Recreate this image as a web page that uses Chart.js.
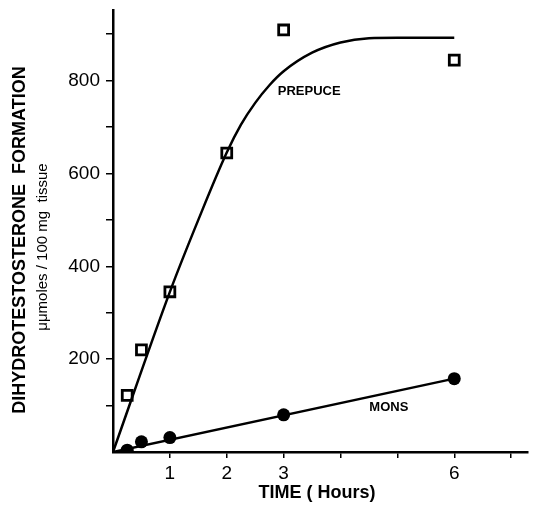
<!DOCTYPE html>
<html lang="en">
<head>
  <meta charset="UTF-8">
  <title>Dihydrotestosterone Formation</title>
  <script src="https://cdn.jsdelivr.net/npm/chart.js"></script>
  <style>
    html, body { margin: 0; padding: 0; background: #fff; }
    #wrap { width: 538px; height: 507px; }
  </style>
</head>
<body>
  <div id="wrap"><canvas id="dhtChart"></canvas></div>

  <script>
    // measured points (hours, µµmoles / 100 mg tissue)
    const prepuceHours = [0.25, 0.5, 1, 2, 3, 6];
    const prepuceValues = [122, 220, 345, 644, 909, 844];
    const monsHours = [0.25, 0.5, 1, 3, 6];
    const monsValues = [4, 22, 31, 80, 158];

    // fitted curves as drawn in the figure
    const prepuceFitHours = [0, 1, 1.5, 2, 2.25, 2.5, 2.75, 3, 3.5, 4, 4.5, 5, 6];
    const prepuceFitValues = [0, 345, 500, 645, 705, 752, 790, 820, 860, 882, 891, 892, 892];
    const monsFitHours = [0, 6];
    const monsFitValues = [0, 158];

    const xTicks = [1, 2, 3, 4, 5, 6, 7];
    const xLabels = [1, 2, 3, 6];
    const yTicks = [100, 200, 300, 400, 500, 600, 700, 800, 900];
    const yLabels = [200, 400, 600, 800];

    const toPoints = (xs, ys) => xs.map((x, i) => ({ x: x, y: ys[i] }));

    // draws the axis titles and the series labels
    const textPlugin = {
      id: 'figureText',
      afterDraw(chart) {
        const ctx = chart.ctx;
        const xs = chart.scales.x, ys = chart.scales.y;
        ctx.save();
        ctx.fillStyle = '#000';
        ctx.textAlign = 'center';
        ctx.textBaseline = 'middle';

        ctx.font = 'bold 13px "Liberation Sans", Arial, sans-serif';
        ctx.fillText('PREPUCE', xs.getPixelForValue(3.45), ys.getPixelForValue(777));
        ctx.fillText('MONS', xs.getPixelForValue(4.85), ys.getPixelForValue(96));

        ctx.font = 'bold 18px "Liberation Sans", Arial, sans-serif';
        ctx.fillText('TIME ( Hours)', 317, 493);

        ctx.translate(20, 240);
        ctx.rotate(-Math.PI / 2);
        ctx.fillText('DIHYDROTESTOSTERONE  FORMATION', 0, 0);
        ctx.font = '15px "Liberation Sans", Arial, sans-serif';
        ctx.fillText('\u03bc\u03bcmoles / 100 mg  tissue', -7, 23);
        ctx.restore();
      }
    };

    const ctx = document.getElementById('dhtChart').getContext('2d');
    new Chart(ctx, {
      type: 'scatter',
      data: {
        datasets: [
          {
            label: 'Prepuce fit',
            data: toPoints(prepuceFitHours, prepuceFitValues),
            showLine: true,
            borderColor: '#000',
            borderWidth: 2.5,
            pointRadius: 0,
            cubicInterpolationMode: 'monotone',
            fill: false
          },
          {
            label: 'Mons fit',
            data: toPoints(monsFitHours, monsFitValues),
            showLine: true,
            borderColor: '#000',
            borderWidth: 2.5,
            pointRadius: 0,
            fill: false
          },
          {
            label: 'Prepuce',
            data: toPoints(prepuceHours, prepuceValues),
            pointStyle: 'rect',
            pointRadius: 7,
            backgroundColor: '#fff',
            borderColor: '#000',
            borderWidth: 2.8
          },
          {
            label: 'Mons',
            data: toPoints(monsHours, monsValues),
            pointStyle: 'circle',
            pointRadius: 6.5,
            backgroundColor: '#000',
            borderColor: '#000',
            borderWidth: 0
          }
        ]
      },
      options: {
        responsive: true,
        maintainAspectRatio: false,
        animation: false,
        layout: { padding: { top: 10, right: 1, left: 0, bottom: 0 } },
        plugins: {
          legend: { display: false },
          tooltip: { enabled: false }
        },
        scales: {
          x: {
            type: 'linear',
            min: 0,
            max: 7.3,
            afterBuildTicks: scale => { scale.ticks = xTicks.map(v => ({ value: v })); },
            afterFit: scale => { scale.height = 55; scale.paddingRight = 0; scale.paddingLeft = 0; },
            border: { display: true, color: '#000', width: 2.5 },
            grid: { drawOnChartArea: false, color: '#000', lineWidth: 1.5, tickLength: 6 },
            ticks: {
              color: '#000',
              padding: 4,
              maxRotation: 0,
              autoSkip: false,
              font: { family: '"Liberation Sans", Arial, sans-serif', size: 19 },
              callback: v => xLabels.includes(v) ? String(v) : ''
            }
          },
          y: {
            type: 'linear',
            min: 0,
            max: 952,
            afterBuildTicks: scale => { scale.ticks = yTicks.map(v => ({ value: v })); },
            afterFit: scale => { scale.width = 113; scale.paddingTop = 0; scale.paddingBottom = 0; },
            border: { display: true, color: '#000', width: 2.5 },
            grid: { drawOnChartArea: false, color: '#000', lineWidth: 1.5, tickLength: 7 },
            ticks: {
              color: '#000',
              padding: 6,
              autoSkip: false,
              font: { family: '"Liberation Sans", Arial, sans-serif', size: 19 },
              callback: v => yLabels.includes(v) ? String(v) : ''
            }
          }
        }
      },
      plugins: [textPlugin]
    });
  </script>
</body>
</html>
